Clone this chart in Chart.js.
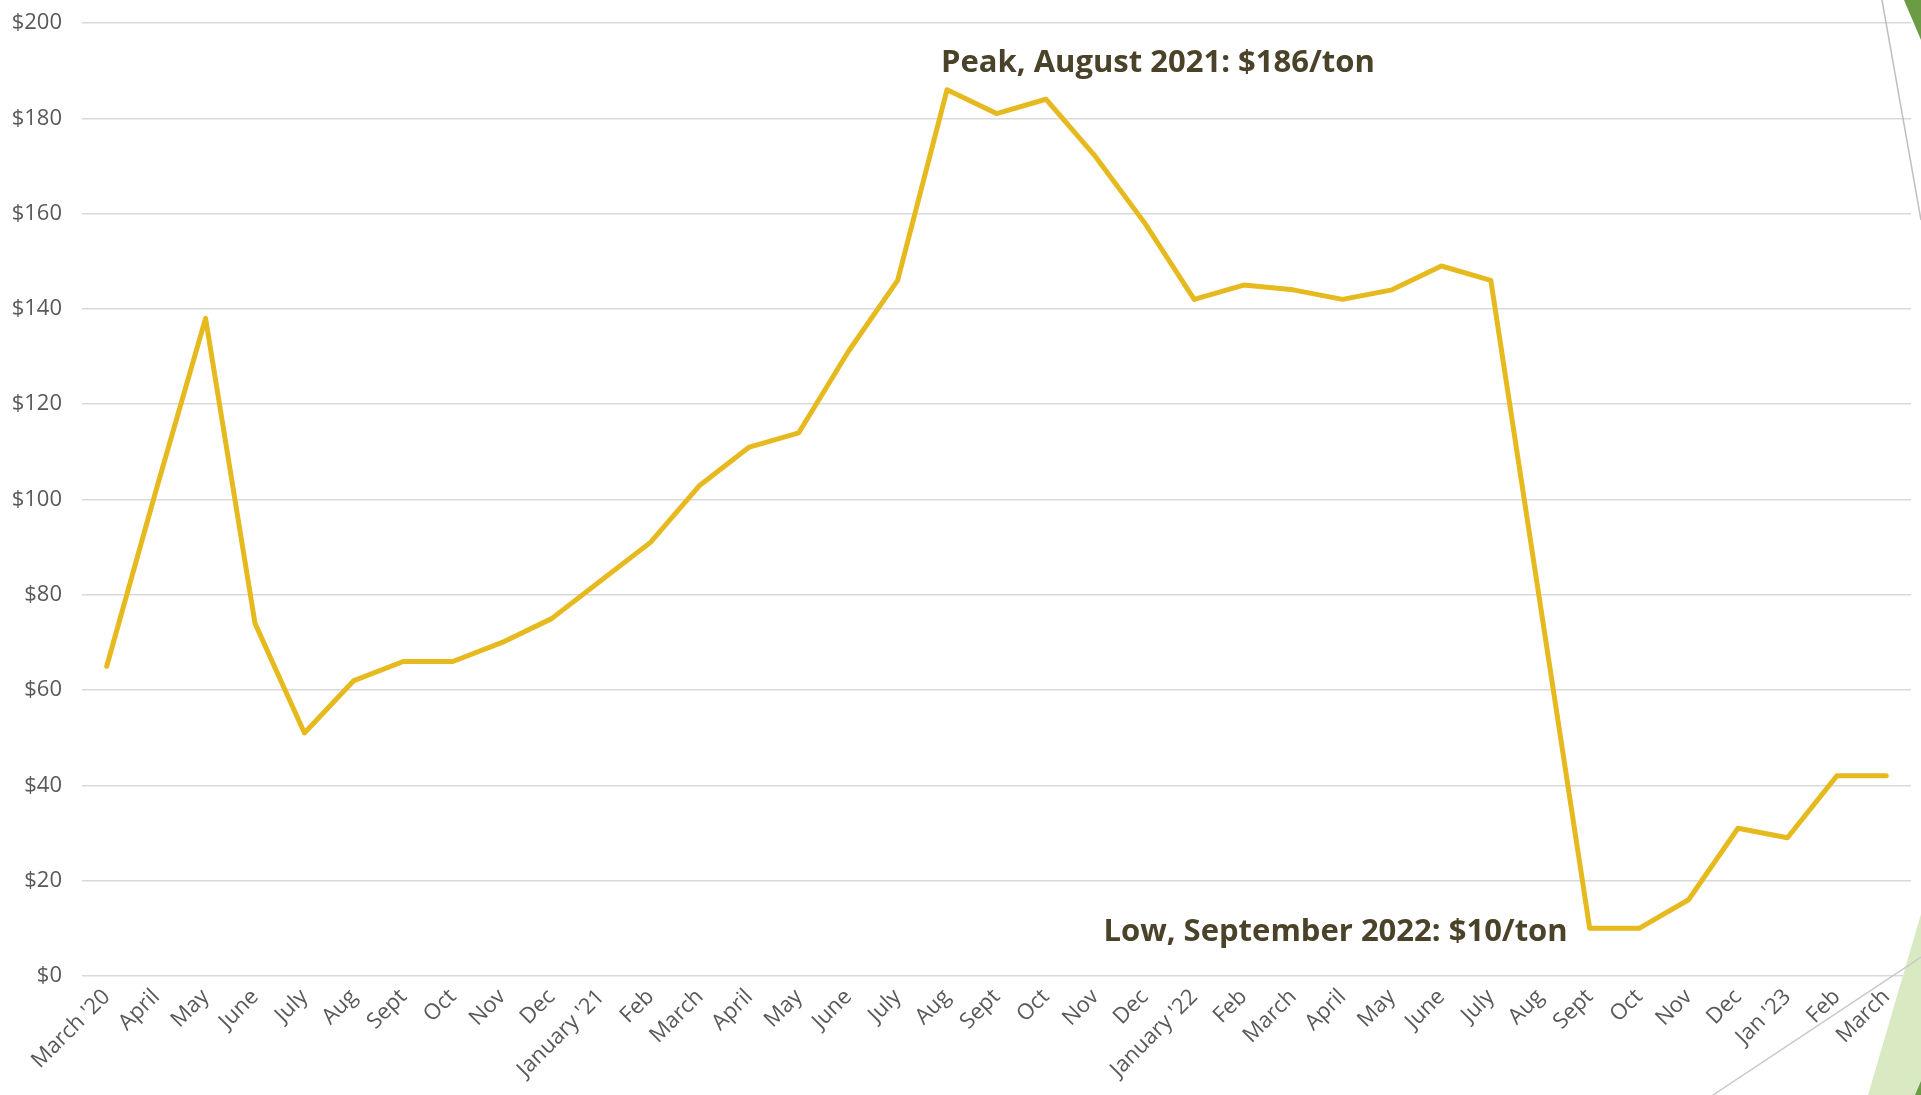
<!DOCTYPE html>
<html>
<head>
<meta charset="utf-8">
<script src="https://cdn.jsdelivr.net/npm/chart.js@4"></script>
<style>
  html, body { margin: 0; padding: 0; background: #fff; overflow: hidden; }
  #wrap { position: relative; width: 1921px; height: 1095px; }
</style>
</head>
<body>
<div id="wrap"><canvas id="priceChart"></canvas></div>
<script>
// months, March 2020 - March 2023
const months = ["March '20", "April", "May", "June", "July", "Aug", "Sept", "Oct", "Nov", "Dec",
    "January '21", "Feb", "March", "April", "May", "June", "July", "Aug", "Sept", "Oct", "Nov", "Dec",
    "January '22", "Feb", "March", "April", "May", "June", "July", "Aug", "Sept", "Oct", "Nov", "Dec",
    "Jan '23", "Feb", "March"];

// price per ton
const prices = [65, 102, 138, 74, 51, 62, 66, 66, 70, 75,
    83, 91, 103, 111, 114, 131, 146, 186, 181, 184, 172, 158,
    142, 145, 144, 142, 144, 149, 146, 78, 10, 10, 16, 31,
    29, 42, 42];

const yMin = 0;
const yMax = 200;
const yStep = 20;

// callouts: label text + which month they point at
const peakIndex = 17;
const peakText = 'Peak, August 2021: $186/ton';
const lowIndex = 30;
const lowText = 'Low, September 2022: $10/ton';

const tickFont = { family: 'Open Sans', size: 22 };
const noteFont = 'bold 31px "Open Sans"';
const noteColor = '#4a4229';

// theme shapes on the right edge + callout text
const decoPlugin = {
    id: 'deco',
    afterDraw(chart) {
        const ctx = chart.ctx;
        const w = chart.width, h = chart.height;
        ctx.save();
        // top right
        ctx.fillStyle = '#6b9b45';
        ctx.beginPath();
        ctx.moveTo(w - 17, 0);
        ctx.lineTo(w, 0);
        ctx.lineTo(w, 40);
        ctx.closePath();
        ctx.fill();
        ctx.strokeStyle = '#bfbfbf';
        ctx.lineWidth = 1.5;
        ctx.beginPath();
        ctx.moveTo(w - 39, 0);
        ctx.lineTo(w, 220);
        ctx.stroke();
        // bottom right
        ctx.fillStyle = '#d9eac3';
        ctx.beginPath();
        ctx.moveTo(w, h - 181);
        ctx.lineTo(w - 53, h);
        ctx.lineTo(w, h);
        ctx.closePath();
        ctx.fill();
        ctx.fillStyle = '#6b9b45';
        ctx.beginPath();
        ctx.moveTo(w, h - 14);
        ctx.lineTo(w - 6, h);
        ctx.lineTo(w, h);
        ctx.closePath();
        ctx.fill();
        ctx.strokeStyle = '#c8c8c8';
        ctx.beginPath();
        ctx.moveTo(w - 208, h);
        ctx.lineTo(w, h - 138);
        ctx.stroke();

        // callouts
        const xs = chart.scales.x, ys = chart.scales.y;
        ctx.font = noteFont;
        ctx.fillStyle = noteColor;
        ctx.textBaseline = 'middle';
        ctx.textAlign = 'left';
        ctx.fillText(peakText, xs.getPixelForValue(peakIndex) - 6, ys.getPixelForValue(prices[peakIndex]) - 27);
        ctx.textAlign = 'right';
        ctx.fillText(lowText, xs.getPixelForValue(lowIndex) - 22, ys.getPixelForValue(prices[lowIndex]) + 4);
        ctx.restore();
    }
};

const ctx = document.getElementById('priceChart').getContext('2d');

const chart = new Chart(ctx, {
    type: 'line',
    data: {
        labels: months,
        datasets: [{
            label: 'Price',
            data: prices,
            borderColor: '#e6b91e',
            borderWidth: 5,
            pointRadius: 0,
            tension: 0,
            borderJoinStyle: 'round',
            borderCapStyle: 'round',
            fill: false
        }]
    },
    options: {
        responsive: true,
        maintainAspectRatio: false,
        animation: false,
        layout: { padding: { top: 23, right: 10, left: 0, bottom: 0 } },
        plugins: {
            legend: { display: false },
            tooltip: { enabled: false }
        },
        scales: {
            x: {
                offset: true,
                grid: { display: false, drawTicks: false },
                border: { display: false },
                ticks: {
                    color: '#595959',
                    font: tickFont,
                    autoSkip: false,
                    minRotation: 45,
                    maxRotation: 45,
                    padding: 8
                },
                afterFit(scale) { scale.height = 119; }
            },
            y: {
                min: yMin,
                max: yMax,
                grid: { color: '#d9d9d9', lineWidth: 1.5, drawTicks: false },
                border: { display: false },
                ticks: {
                    stepSize: yStep,
                    color: '#595959',
                    font: tickFont,
                    padding: 20,
                    callback: (v) => '$' + v
                },
                afterFit(scale) {
                    scale.width = 82;
                    scale.paddingTop = 0;
                }
            }
        }
    },
    plugins: [decoPlugin]
});
</script>
</body>
</html>
